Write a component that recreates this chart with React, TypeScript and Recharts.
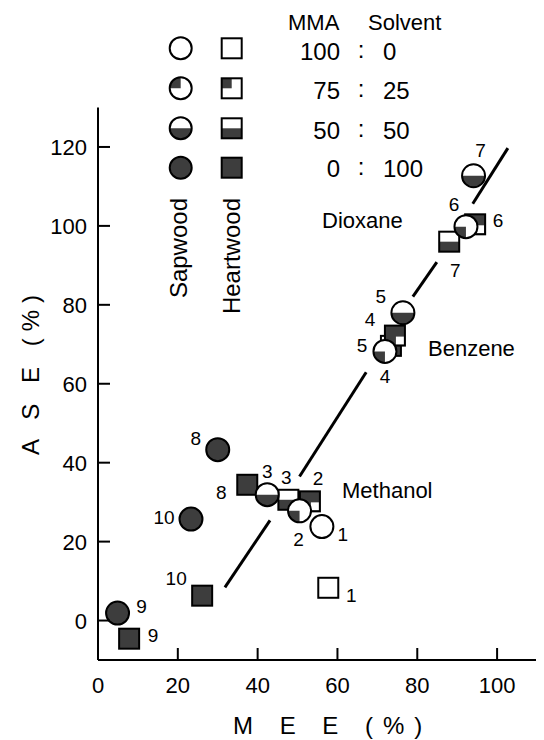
import { ScatterChart, Scatter, XAxis, YAxis, ReferenceLine } from 'recharts'

const FONT = '"Liberation Sans", Arial, sans-serif'
const DARK = '#3d3d3d'

// mma = MMA share of the MMA : solvent mixture (%)
const sapwood = [
  { id: '1', mee: 56.1, ase: 23.8, mma: 100 },
  { id: '2', mee: 50.5, ase: 27.8, mma: 75 },
  { id: '3', mee: 42.4, ase: 31.9, mma: 50 },
  { id: '4', mee: 71.9, ase: 68.2, mma: 75 },
  { id: '5', mee: 76.4, ase: 78.0, mma: 50 },
  { id: '6', mee: 92.2, ase: 99.8, mma: 75 },
  { id: '7', mee: 94.1, ase: 112.7, mma: 50 },
  { id: '8', mee: 30.0, ase: 43.3, mma: 0 },
  { id: '9', mee: 4.9, ase: 1.9, mma: 0 },
  { id: '10', mee: 23.3, ase: 25.7, mma: 0 },
]

const heartwood = [
  { id: '1', mee: 57.7, ase: 8.3, mma: 100 },
  { id: '2', mee: 53.1, ase: 30.2, mma: 75 },
  { id: '3', mee: 47.7, ase: 30.6, mma: 50 },
  { id: '5', mee: 73.4, ase: 69.6, mma: 50 },
  { id: '4', mee: 74.4, ase: 72.2, mma: 75 },
  { id: '6', mee: 94.5, ase: 100.4, mma: 75 },
  { id: '7', mee: 88.0, ase: 96.0, mma: 50 },
  { id: '8', mee: 37.4, ase: 34.4, mma: 0 },
  { id: '9', mee: 7.8, ase: -4.6, mma: 0 },
  { id: '10', mee: 26.1, ase: 6.3, mma: 0 },
]

// broken regression line, pieces between the markers
const trendSegments = [
  [[31.8, 8.4], [43.1, 25.4]],
  [[50.5, 36.5], [67.2, 62.9]],
  [[78.9, 82.1], [84.9, 90.8]],
  [[93.9, 105.6], [102.7, 119.7]],
]

const legendRatios = [100, 75, 50, 0]
const legendText = [['100', '0'], ['75', '25'], ['50', '50'], ['0', '100']]
const solvents = ['Methanol', 'Benzene', 'Dioxane']

const xTicks = [0, 20, 40, 60, 80, 100]
const yTicks = [0, 20, 40, 60, 80, 100, 120]

// where each point number sits relative to its marker
const sapLabelOffset = {
  '1': [21, 7], '2': [-1, 28], '3': [0, -24], '4': [0, 25], '5': [-22, -17],
  '6': [-12, -23], '7': [7, -26], '8': [-22, -12], '9': [24, -7], '10': [-27, -2],
}
const heartLabelOffset = {
  '1': [23, 7], '2': [8, -23], '3': [-2, -23], '4': [-25, -17], '5': [-29, -1],
  '6': [23, -4], '7': [6, 28], '8': [-26, 7], '9': [24, -4], '10': [-26, -18],
}
const solventPos = { Methanol: [334, 490], Benzene: [420, 348], Dioxane: [314, 220] }

const X_MARGIN = 17
const Y_MARGIN = 11
const TICK = 12

function CircleMark({ cx, cy, mma, r, legend }) {
  let part = null
  if (mma === 0) part = <circle cx={cx} cy={cy} r={r} fill={DARK} />
  else if (mma === 50)
    part = <path d={`M${cx - r},${cy} A${r},${r} 0 0 0 ${cx + r},${cy} Z`} fill={DARK} />
  else if (mma === 75)
    part = legend ? (
      <path d={`M${cx},${cy} L${cx - r},${cy} A${r},${r} 0 0 1 ${cx},${cy - r} Z`} fill={DARK} />
    ) : (
      <path d={`M${cx},${cy} L${cx},${cy + r} A${r},${r} 0 0 1 ${cx - r},${cy} Z`} fill={DARK} />
    )
  return (
    <g>
      <circle cx={cx} cy={cy} r={r} fill="#fff" />
      {part}
      <circle cx={cx} cy={cy} r={r} fill="none" stroke="#000" strokeWidth={2} />
    </g>
  )
}

function SquareMark({ cx, cy, mma, h, legend }) {
  let part = null
  if (mma === 0) part = <rect x={cx - h} y={cy - h} width={2 * h} height={2 * h} fill={DARK} />
  else if (mma === 50) part = <rect x={cx - h} y={cy} width={2 * h} height={h} fill={DARK} />
  else if (mma === 75)
    part = legend ? (
      <rect x={cx - h} y={cy - h} width={h} height={h} fill={DARK} />
    ) : (
      <g>
        <rect x={cx - h} y={cy - h} width={2 * h} height={2 * h} fill={DARK} />
        <rect x={cx + 1} y={cy + 1} width={h - 2} height={h - 2} fill="#fff" />
      </g>
    )
  return (
    <g>
      <rect x={cx - h} y={cy - h} width={2 * h} height={2 * h} fill="#fff" />
      {part}
      <rect x={cx - h} y={cy - h} width={2 * h} height={2 * h} fill="none" stroke="#000" strokeWidth={2} />
    </g>
  )
}

function NumLabel({ x, y, text }) {
  return (
    <text x={x} y={y + 7} textAnchor="middle" fontFamily={FONT} fontSize={19} fill="#000">
      {text}
    </text>
  )
}

const sapShape = (p) => {
  const [dx, dy] = sapLabelOffset[p.payload.id]
  return (
    <g>
      <CircleMark cx={p.cx} cy={p.cy} mma={p.payload.mma} r={11.5} />
      <NumLabel x={p.cx + dx} y={p.cy + dy} text={p.payload.id} />
    </g>
  )
}

const heartShape = (p) => {
  const [dx, dy] = heartLabelOffset[p.payload.id]
  return (
    <g>
      <SquareMark cx={p.cx} cy={p.cy} mma={p.payload.mma} h={10} />
      <NumLabel x={p.cx + dx} y={p.cy + dy} text={p.payload.id} />
    </g>
  )
}

const XTick = ({ x, y, payload }) => (
  <g>
    {payload.value !== 0 && (
      <line x1={x} x2={x} y1={y - X_MARGIN} y2={y - X_MARGIN - TICK} stroke="#000" strokeWidth={2} />
    )}
    <text x={x} y={y} dy="0.72em" textAnchor="middle" fontFamily={FONT} fontSize={22} fill="#000">
      {payload.value}
    </text>
  </g>
)

const YTick = ({ x, y, payload }) => (
  <g>
    <line x1={x + Y_MARGIN} x2={x + Y_MARGIN + TICK} y1={y} y2={y} stroke="#000" strokeWidth={2} />
    <text x={x} y={y + 8} textAnchor="end" fontFamily={FONT} fontSize={22} fill="#000">
      {payload.value}
    </text>
  </g>
)

const W = 536
const H = 732

export default function App() {
  return (
    <div style={{ position: 'relative', width: W, height: H }}>
      <ScatterChart width={W} height={H} margin={{ top: 99.5, right: 7, bottom: 0, left: 0 }}>
        <XAxis
          type="number"
          dataKey="mee"
          domain={[0, 110]}
          ticks={xTicks}
          height={80}
          tickSize={0}
          tickMargin={X_MARGIN}
          tick={XTick}
          axisLine={{ stroke: '#000', strokeWidth: 2 }}
          allowDataOverflow
        />
        <YAxis
          type="number"
          dataKey="ase"
          domain={[-10, 130]}
          ticks={yTicks}
          width={90}
          tickSize={0}
          tickMargin={Y_MARGIN}
          tick={YTick}
          axisLine={{ stroke: '#000', strokeWidth: 2 }}
          allowDataOverflow
        />
        {trendSegments.map((s, i) => (
          <ReferenceLine
            key={i}
            segment={[{ x: s[0][0], y: s[0][1] }, { x: s[1][0], y: s[1][1] }]}
            stroke="#000"
            strokeWidth={3}
          />
        ))}
        <Scatter data={heartwood} shape={heartShape} isAnimationActive={false} />
        <Scatter data={sapwood} shape={sapShape} isAnimationActive={false} />
      </ScatterChart>

      <svg width={W} height={H} style={{ position: 'absolute', left: 0, top: 0, pointerEvents: 'none' }}>
        <g fontFamily={FONT} fill="#000">
          <text x={280} y={22} fontSize={22}>MMA</text>
          <text x={360} y={22} fontSize={22}>Solvent</text>
          {legendRatios.map((m, i) => {
            const cy = [40.3, 80.3, 120.3, 159.7][i]
            const ty = [52.3, 90.6, 130.6, 168.6][i]
            return (
              <g key={m}>
                <CircleMark cx={172.7} cy={cy} mma={m} r={11} legend />
                <SquareMark cx={223.7} cy={cy} mma={m} h={10} legend />
                <text x={332} y={ty} fontSize={24} textAnchor="end">{legendText[i][0]}</text>
                <text x={353} y={ty - 2} fontSize={24} textAnchor="middle">:</text>
                <text x={375} y={ty} fontSize={24}>{legendText[i][1]}</text>
              </g>
            )
          })}
          <text x={179} y={190} fontSize={24} textAnchor="end" transform="rotate(-90 179 190)">
            Sapwood
          </text>
          <text x={232} y={190} fontSize={24} textAnchor="end" transform="rotate(-90 232 190)">
            Heartwood
          </text>
          {solvents.map((s) => (
            <text key={s} x={solventPos[s][0]} y={solventPos[s][1]} fontSize={22}>
              {s}
            </text>
          ))}
          <text x={225} y={726} fontSize={24} letterSpacing={10}>M E E (%)</text>
          <text x={31} y={447} fontSize={24} letterSpacing={7} transform="rotate(-90 31 447)">
            A S E (%)
          </text>
        </g>
      </svg>
    </div>
  )
}
